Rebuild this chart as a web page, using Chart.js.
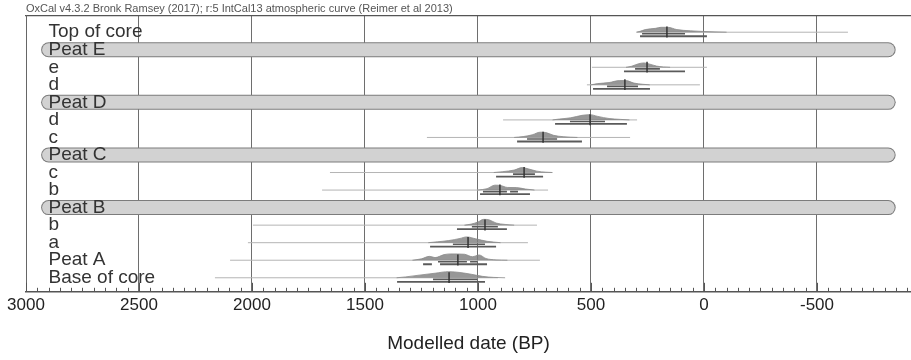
<!DOCTYPE html>
<html>
<head>
<meta charset="utf-8">
<script src="https://cdn.jsdelivr.net/npm/chart.js@4.4.0/dist/chart.umd.min.js"></script>
<style>
    html, body { margin: 0; padding: 0; background: #fff; }
</style>
</head>
<body>
<canvas id="oxcalChart" width="911" height="360"></canvas>
<script>
const rowLabels = ['Top of core', 'Peat E', 'e', 'd', 'Peat D', 'd', 'c', 'Peat C', 'c', 'b', 'Peat B', 'b', 'a', 'Peat A', 'Base of core'];
const peatRows = [1, 4, 7, 10];
const peatSpan = [2900, -815];
const xTicks = [3000, 2500, 2000, 1500, 1000, 500, 0, -500];

// dated rows (index into rowLabels)
const dateRows = [0, 2, 3, 5, 6, 8, 9, 11, 12, 13, 14];
// unmodelled extent (thin line), BP
const priorFrom = [296, 496, 518, 889, 1226, 1655, 1690, 1996, 2018, 2097, 2164];
const priorTo = [-637, -13, 18, 296, 327, 673, 690, 739, 779, 726, 912];
// median cross
const medians = [164, 252, 350, 504, 712, 796, 903, 969, 1044, 1089, 1128];
// 68.2% and 95.4% ranges (segments)
const range68 = [
    [[274, 84]], [[305, 195]], [[429, 292]], [[593, 438]], [[783, 650]], [[845, 748]],
    [[978, 872], [858, 823]], [[1027, 912]], [[1111, 969]], [[1177, 1049], [1035, 1004]], [[1199, 1004]]
];
const range95 = [
    [[283, -13]], [[354, 84]], [[491, 239]], [[659, 341]], [[827, 540]], [[920, 712]],
    [[991, 770]], [[1093, 872]], [[1212, 920]], [[1243, 1204], [1168, 960]], [[1358, 969]]
];
// posterior shapes: [date BP, height in row units]
const humps = [
    [[300, 0], [283, 0.05], [260, 0.15], [215, 0.22], [190, 0.28], [160, 0.28], [120, 0.15], [60, 0.08], [0, 0.04], [-100, 0]],
    [[345, 0], [320, 0.06], [290, 0.2], [265, 0.25], [240, 0.18], [210, 0.07], [180, 0.02], [150, 0]],
    [[500, 0], [470, 0.07], [420, 0.13], [375, 0.24], [345, 0.24], [310, 0.1], [270, 0.03], [240, 0]],
    [[670, 0], [640, 0.05], [590, 0.12], [540, 0.26], [505, 0.3], [470, 0.2], [420, 0.08], [370, 0.03], [330, 0]],
    [[840, 0], [800, 0.05], [760, 0.15], [725, 0.3], [700, 0.28], [665, 0.12], [620, 0.04], [560, 0]],
    [[930, 0], [890, 0.05], [840, 0.14], [805, 0.28], [775, 0.2], [740, 0.08], [700, 0.02], [670, 0]],
    [[1000, 0], [960, 0.08], [925, 0.28], [900, 0.26], [870, 0.15], [830, 0.14], [790, 0.06], [750, 0]],
    [[1060, 0], [1030, 0.06], [1000, 0.18], [975, 0.33], [950, 0.3], [920, 0.12], [880, 0.04], [840, 0]],
    [[1220, 0], [1180, 0.05], [1130, 0.12], [1080, 0.24], [1050, 0.33], [1010, 0.22], [960, 0.08], [900, 0]],
    [[1290, 0], [1250, 0.08], [1215, 0.22], [1190, 0.15], [1150, 0.32], [1120, 0.36], [1060, 0.34], [1025, 0.2], [995, 0.3], [965, 0.1], [920, 0.02], [870, 0]],
    [[1360, 0], [1320, 0.05], [1260, 0.15], [1190, 0.26], [1130, 0.35], [1080, 0.3], [1030, 0.2], [980, 0.08], [930, 0.02], [880, 0]]
];

Chart.defaults.font.family = "'Liberation Sans', Arial, sans-serif";

function segment(x0, x1, y, color, width, order) {
    return {
        data: [{ x: x0, y: y }, { x: x1, y: y }],
        borderColor: color,
        borderWidth: width,
        pointRadius: 0,
        fill: false,
        order: order,
    };
}

const datasets = [];

peatRows.forEach(r => {
    const outline = segment(peatSpan[0], peatSpan[1], r, '#7c7c7c', 15, 10);
    outline.borderCapStyle = 'round';
    const inner = segment(peatSpan[0], peatSpan[1], r, '#d2d2d2', 13, 9);
    inner.borderCapStyle = 'round';
    datasets.push(outline, inner);
});

dateRows.forEach((r, i) => {
    datasets.push(segment(priorFrom[i], priorTo[i], r, '#b4b4b4', 1, 8));
    datasets.push({
        data: humps[i].map(p => ({ x: p[0], y: r - p[1] })),
        borderColor: '#8a8a8a',
        borderWidth: 0.8,
        backgroundColor: 'rgba(125,125,125,0.8)',
        fill: { value: r },
        cubicInterpolationMode: 'monotone',
        pointRadius: 0,
        order: 7,
    });
    range68[i].forEach(s => datasets.push(segment(s[0], s[1], r + 0.09, '#5a5a5a', 1.6, 6)));
    range95[i].forEach(s => datasets.push(segment(s[0], s[1], r + 0.23, '#5a5a5a', 1.8, 6)));
    datasets.push({
        data: [{ x: medians[i], y: r - 0.32 }, { x: medians[i], y: r + 0.3 }],
        borderColor: '#333',
        borderWidth: 1.5,
        pointRadius: 0,
        order: 5,
    });
});

// small ticks on the date axis, pointing into the plot
const axisTicks = {
    id: 'axisTicks',
    afterDatasetsDraw(chart) {
        const { ctx, chartArea } = chart;
        const x = chart.scales.x;
        ctx.save();
        ctx.strokeStyle = '#555';
        ctx.lineWidth = 1;
        for (let v = 3000; v >= -900; v -= 50) {
            const px = Math.round(x.getPixelForValue(v)) + 0.5;
            const len = v % 500 === 0 ? 9 : 4;
            ctx.beginPath();
            ctx.moveTo(px, chartArea.bottom);
            ctx.lineTo(px, chartArea.bottom - len);
            ctx.stroke();
        }
        ctx.restore();
    }
};

new Chart(document.getElementById('oxcalChart'), {
    type: 'line',
    data: { datasets: datasets },
    plugins: [axisTicks],
    options: {
        responsive: false,
        animation: false,
        layout: { padding: { left: -19, right: 0, top: 0, bottom: 0 } },
        plugins: {
            legend: { display: false },
            tooltip: { enabled: false },
        },
        scales: {
            x: {
                type: 'linear',
                reverse: true,
                min: -916,
                max: 3000,
                afterBuildTicks: s => { s.ticks = xTicks.map(v => ({ value: v })); },
                grid: { color: '#6e6e6e', lineWidth: 1, drawTicks: false },
                border: { color: '#555', width: 1.5 },
                ticks: {
                    padding: 3,
                    color: '#222',
                    font: { size: 17 },
                    maxRotation: 0,
                    autoSkip: false,
                    callback: v => String(v),
                },
                title: {
                    display: true,
                    text: 'Modelled date (BP)',
                    color: '#222',
                    font: { size: 19 },
                    padding: { top: 14, bottom: 5 },
                },
            },
            x2: {
                type: 'linear',
                position: 'top',
                min: 0,
                max: 1,
                grid: { display: false, drawTicks: false },
                border: { display: true, color: '#555', width: 1.2 },
                ticks: { display: false },
                title: {
                    display: true,
                    align: 'start',
                    text: 'OxCal v4.3.2 Bronk Ramsey (2017); r:5 IntCal13 atmospheric curve (Reimer et al 2013)',
                    color: '#555',
                    font: { size: 11 },
                    padding: { top: 2, bottom: 0 },
                },
            },
            y: {
                type: 'linear',
                reverse: true,
                min: -0.97,
                max: 14.8,
                afterBuildTicks: s => { s.ticks = rowLabels.map((_, i) => ({ value: i })); },
                afterFit: s => { s.paddingTop = 0; s.paddingBottom = 0; },
                grid: { display: false, drawTicks: false },
                border: { display: true, color: '#666', width: 1 },
                ticks: {
                    z: 1,
                    mirror: true,
                    padding: 22.5,
                    color: '#333',
                    font: { size: 19 },
                    autoSkip: false,
                    callback: v => rowLabels[v],
                },
            },
        },
    },
});
</script>
</body>
</html>
